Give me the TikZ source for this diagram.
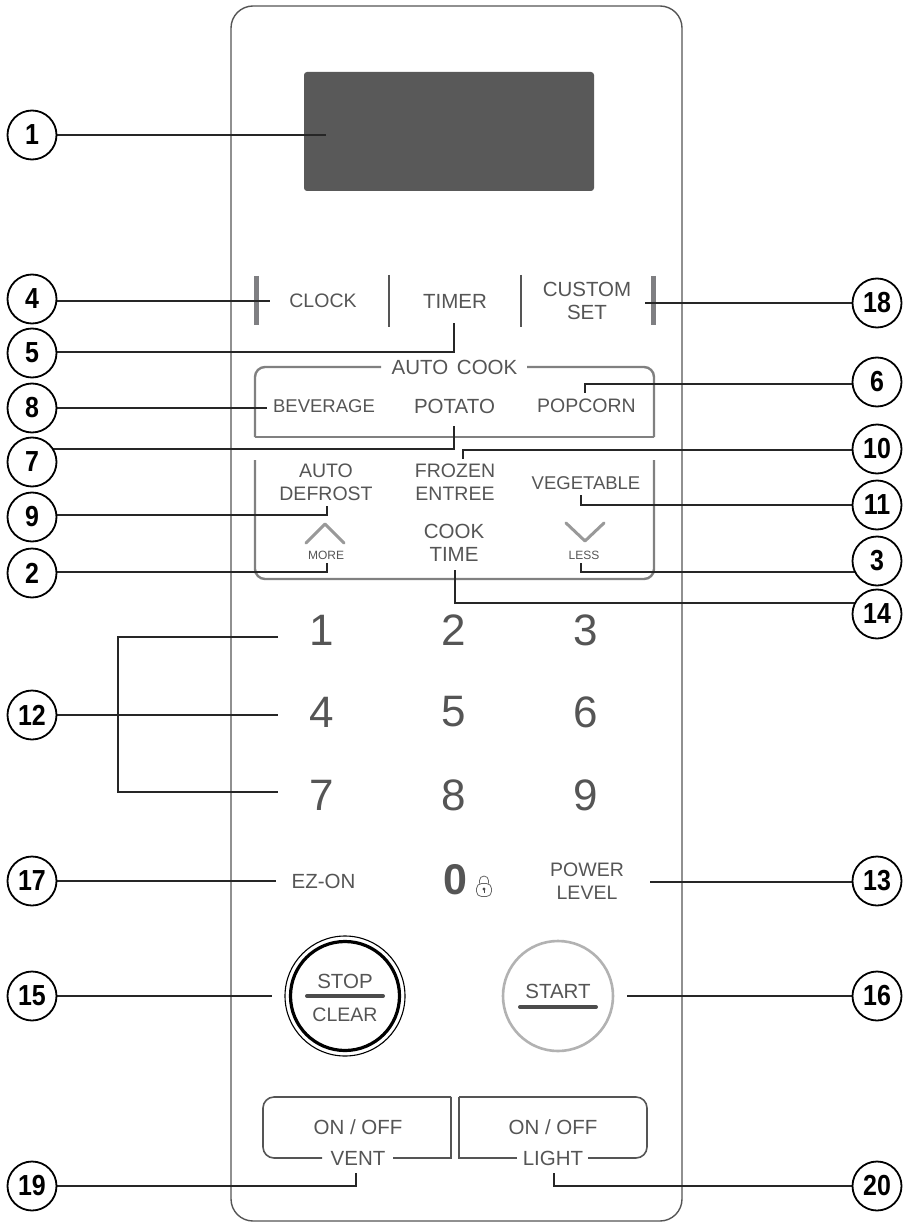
\documentclass[tikz,border=0pt]{standalone}
\usepackage{fontspec}
\setmainfont{Liberation Sans}
\newfontfamily\numfont[FakeStretch=0.86]{Liberation Sans}
\usetikzlibrary{backgrounds}
\definecolor{ink}{HTML}{555555}
\definecolor{barg}{HTML}{7F7F82}
\definecolor{frameg}{HTML}{808080}
\tikzset{
  x=1pt,y=-1pt,
  num/.style={circle,draw=black,line width=1.8pt,fill=white,minimum size=49pt,inner sep=0pt,text=black,font=\numfont\bfseries\fontsize{29}{29}\selectfont},
  lbl/.style={text=ink,inner sep=0pt,align=center,font=\fontsize{19.5}{23}\selectfont},
  lblw/.style={lbl,font=\fontsize{20.5}{23}\selectfont},
  lbln/.style={lbl,font=\fontsize{18.5}{23}\selectfont},
  small/.style={text=ink,inner sep=0pt,font=\fontsize{12}{12}\selectfont},
  digit/.style={text=ink,inner sep=0pt,font=\fontsize{44}{44}\selectfont},
  conn/.style={draw=black!85,line width=1.4pt},
  framed/.style={draw=frameg,line width=2.4pt},
  tabbar/.style={draw=barg,line width=5pt},
  sepbar/.style={draw=ink,line width=2.4pt},
  chev/.style={draw=black!40,line width=3pt,line cap=round,line join=round},
  keybar/.style={draw=black!70,line width=4pt,line cap=round},
  btn/.style={draw=ink,line width=1.6pt},
}
\begin{document}
\begin{tikzpicture}
\useasboundingbox (0,0) rectangle (905,1222);
% callout circles
\node[num] (c1) at (32,135) {1};
\node[num] (c4) at (32,299) {4};
\node[num] (c5) at (32,353) {5};
\node[num] (c8) at (32,408) {8};
\node[num] (c7) at (32,462) {7};
\node[num] (c9) at (32,517) {9};
\node[num] (c2) at (32,573) {2};
\node[num] (c12) at (32,715) {12};
\node[num] (c17) at (32,881) {17};
\node[num] (c15) at (32,996) {15};
\node[num] (c19) at (32,1186) {19};
\node[num] (c18) at (877,303) {18};
\node[num] (c6) at (877,382) {6};
\node[num] (c10) at (877,449) {10};
\node[num] (c11) at (877,505) {11};
\node[num] (c3) at (877,561) {3};
\node[num] (c14) at (877,614) {14};
\node[num] (c13) at (877,881) {13};
\node[num] (c16) at (877,996) {16};
\node[num] (c20) at (877,1186) {20};
% labels
\node[lbl] (clock) at (323,301) {CLOCK};
\node[lblw] (timer) at (455,301) {TIMER};
\node[lblw] (custom) at (587,301) {CUSTOM\\SET};
\node[lblw] (autocook) at (454.5,367) {AUTO\hspace{3pt} COOK};
\node[lbln] (beverage) at (324,406) {BEVERAGE};
\node[lblw] (potato) at (454.5,406) {POTATO};
\node[lbl] (popcorn) at (586.5,406) {POPCORN};
\node[lbl] (defrost) at (326,482) {AUTO\\DEFROST};
\node[lbl] (frozen) at (455,482) {FROZEN\\ENTREE};
\node[lbln] (vegetable) at (586,483) {VEGETABLE};
\node[lblw] (cook) at (454,543) {COOK\\TIME};
\node[small] (more) at (326,555) {MORE};
\node[small] (less) at (584,555) {LESS};
\node[digit] (d1) at (322,630) {1};
\node[digit] (d2) at (454,630) {2};
\node[digit] (d3) at (586,630) {3};
\node[digit] (d4) at (322,712) {4};
\node[digit] (d5) at (454,712) {5};
\node[digit] (d6) at (586,712) {6};
\node[digit] (d7) at (322,795) {7};
\node[digit] (d8) at (454,795) {8};
\node[digit] (d9) at (586,795) {9};
\node[digit,font=\bfseries\fontsize{43}{43}\selectfont] (d0) at (455,880) {0};
\node[lblw] (ezon) at (323.5,881) {EZ-ON};
\node[lbl] (power) at (587,881) {POWER\\LEVEL};
\node[lblw] (stop) at (345,981) {STOP};
\node[lbl] (clear) at (345,1015) {CLEAR};
\node[lblw] (start) at (558,991) {START};
\node[lblw] (on1) at (358,1127) {ON / OFF};
\node[lblw] (vent) at (358,1158) {VENT};
\node[lblw] (on2) at (553,1127) {ON / OFF};
\node[lblw] (light) at (553,1158) {LIGHT};
% panel artwork and connectors underneath
\begin{scope}[on background layer]
\draw[draw=ink,line width=1.4pt,rounded corners=22pt] (231,6) rectangle (682,1221);
\fill[fill=black!65,rounded corners=3pt] (304,72) rectangle (594,191);
\draw[tabbar] (256,276) -- (256,325);
\draw[sepbar] (389,275) -- (389,327);
\draw[sepbar] (521,275) -- (521,327);
\draw[tabbar] (653,276) -- (653,325);
\draw[framed,rounded corners=10pt] (381,367) -- (255,367) -- (255,437);
\draw[framed] (255,437) -- (654,437);
\draw[framed,rounded corners=10pt] (654,437) -- (654,367) -- (527,367);
\draw[framed,rounded corners=10pt] (255,460) -- (255,579) -- (654,579) -- (654,460);
\draw[chev] (306,543) -- (325,524) -- (344,543);
\draw[chev] (566,523) -- (585,541) -- (604,523);
\draw[framed,draw=black!30,line width=2.6pt] (558,996) circle (55);
\draw[line width=1.1pt] (345,996) circle (60);
\draw[line width=3.2pt] (345,996) circle (54.5);
\draw[keybar] (307,996) -- (383,996);
\draw[keybar] (520,1007) -- (596,1007);
\draw[btn,rounded corners=11pt] (322,1158) -- (263,1158) -- (263,1097) -- (451,1097);
\draw[btn] (451,1097) -- (451,1158) -- (393,1158);
\draw[btn] (517,1158) -- (459,1158) -- (459,1097);
\draw[btn,rounded corners=11pt] (459,1097) -- (647,1097) -- (647,1158) -- (588,1158);
% lock icon
\draw[draw=black!60,line width=.8pt,rounded corners=5pt] (476.5,883.5) rectangle (491.5,896.5);
\draw[draw=black!60,line width=.8pt] (479.5,883.5) -- (479.5,880.5) arc[start angle=180,end angle=360,radius=4.5] -- (488.5,883.5);
\fill[fill=black!70] (484,889) circle (1.6);
\draw[draw=black!70,line width=.9pt] (484,889) -- (484,893);
% connectors
\coordinate (e1) at (326,135);
\coordinate (e4) at (270,301);
\coordinate (k5) at (454,352);
\coordinate (e5) at (454,323);
\coordinate (e8) at (267,408);
\coordinate (k7) at (454,449);
\coordinate (e7) at (454,426);
\coordinate (k9) at (327,515);
\coordinate (e9) at (327,506);
\coordinate (k2) at (327,572);
\coordinate (e2) at (327,563);
\coordinate (e18) at (645,303);
\coordinate (k6) at (585,384);
\coordinate (e6) at (585,393);
\coordinate (k10) at (463,450);
\coordinate (e10) at (463,459);
\coordinate (k11) at (581,505);
\coordinate (e11) at (581,495);
\coordinate (k3) at (581,572);
\coordinate (e3) at (581,563);
\coordinate (k14) at (455,603);
\coordinate (e14) at (455,570);
\coordinate (t1) at (278,637);
\coordinate (t4) at (278,715);
\coordinate (t7) at (278,792);
\coordinate (j1) at (118,637);
\coordinate (j7) at (118,792);
\coordinate (e17) at (276,881);
\coordinate (e13) at (650,882);
\coordinate (e15) at (272,996);
\coordinate (e16) at (627,996);
\coordinate (k19) at (356,1186);
\coordinate (e19) at (356,1173);
\coordinate (k20) at (554,1186);
\coordinate (e20) at (554,1173);
\draw[conn] (c1) -- (e1);
\draw[conn] (c4 |- e4) -- (e4);
\draw[conn] (c5 |- k5) -- (k5) -- (e5);
\draw[conn] (c8 |- e8) -- (e8);
\draw[conn] (c7 |- k7) -- (k7) -- (e7);
\draw[conn] (c9 |- k9) -- (k9) -- (e9);
\draw[conn] (c2 |- k2) -- (k2) -- (e2);
\draw[conn] (c18 |- e18) -- (e18);
\draw[conn] (c6 |- k6) -- (k6) -- (e6);
\draw[conn] (c10 |- k10) -- (k10) -- (e10);
\draw[conn] (c11 |- k11) -- (k11) -- (e11);
\draw[conn] (c3 |- k3) -- (k3) -- (e3);
\draw[conn] (c14 |- k14) -- (k14) -- (e14);
\draw[conn] (c12 |- t4) -- (t4);
\draw[conn] (t1) -- (j1) -- (j7) -- (t7);
\draw[conn] (c17 |- e17) -- (e17);
\draw[conn] (c13 |- e13) -- (e13);
\draw[conn] (c15 |- e15) -- (e15);
\draw[conn] (c16 |- e16) -- (e16);
\draw[conn] (c19 |- k19) -- (k19) -- (e19);
\draw[conn] (c20 |- k20) -- (k20) -- (e20);
\end{scope}
\end{tikzpicture}
\end{document}
